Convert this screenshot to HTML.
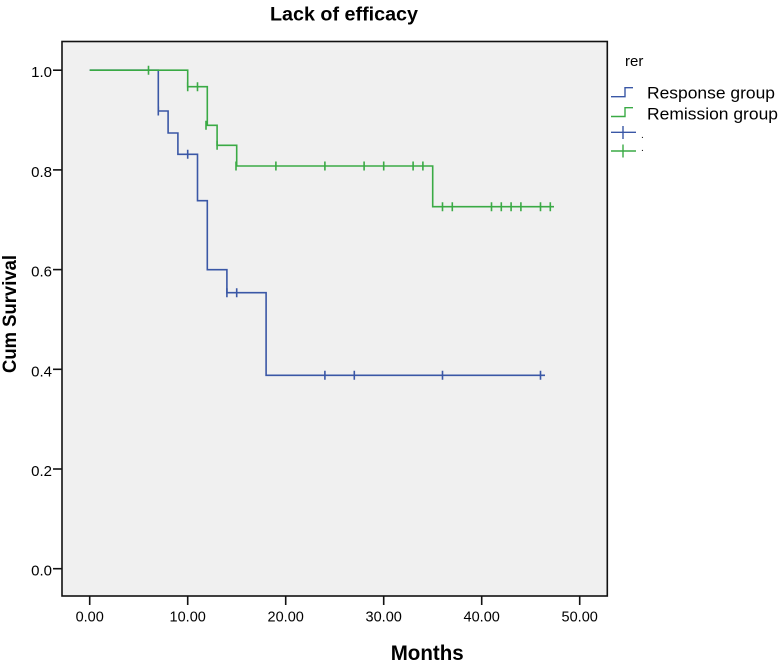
<!DOCTYPE html>
<html>
<head>
<meta charset="utf-8">
<style>
  html,body{margin:0;padding:0;background:#fff;}
  svg{display:block;}
  text{font-family:"Liberation Sans","Noto Sans CJK KR",sans-serif;fill:#000;}
</style>
</head>
<body>
<svg width="778" height="661" viewBox="0 0 778 661" xmlns="http://www.w3.org/2000/svg">
  <rect x="0" y="0" width="778" height="661" fill="#fff"/>
  <!-- title -->
  <text x="270" y="20.5" font-size="19.5" font-weight="bold" textLength="148" lengthAdjust="spacingAndGlyphs">Lack of efficacy</text>

  <!-- plot area -->
  <rect x="62" y="41.5" width="545.3" height="554.5" fill="#f0f0f0" stroke="#111" stroke-width="1.6"/>

  <!-- y ticks -->
  <g stroke="#111" stroke-width="1.6">
    <line x1="53" y1="568.7" x2="62" y2="568.7"/>
    <line x1="53" y1="469" x2="62" y2="469"/>
    <line x1="53" y1="369.3" x2="62" y2="369.3"/>
    <line x1="53" y1="269.6" x2="62" y2="269.6"/>
    <line x1="53" y1="169.9" x2="62" y2="169.9"/>
    <line x1="53" y1="70.2" x2="62" y2="70.2"/>
  </g>
  <g font-size="15" text-anchor="end">
    <text x="52" y="575.7">0.0</text>
    <text x="52" y="476">0.2</text>
    <text x="52" y="376.3">0.4</text>
    <text x="52" y="276.6">0.6</text>
    <text x="52" y="176.9">0.8</text>
    <text x="52" y="77.2">1.0</text>
  </g>

  <!-- x ticks -->
  <g stroke="#111" stroke-width="1.6">
    <line x1="89.7" y1="596" x2="89.7" y2="605"/>
    <line x1="187.7" y1="596" x2="187.7" y2="605"/>
    <line x1="285.7" y1="596" x2="285.7" y2="605"/>
    <line x1="383.7" y1="596" x2="383.7" y2="605"/>
    <line x1="481.7" y1="596" x2="481.7" y2="605"/>
    <line x1="579.7" y1="596" x2="579.7" y2="605"/>
  </g>
  <g font-size="14.5" text-anchor="middle">
    <text x="89.7" y="621.5">0.00</text>
    <text x="187.7" y="621.5">10.00</text>
    <text x="285.7" y="621.5">20.00</text>
    <text x="383.7" y="621.5">30.00</text>
    <text x="481.7" y="621.5">40.00</text>
    <text x="579.7" y="621.5">50.00</text>
  </g>

  <!-- axis titles -->
  <text x="390.7" y="660" font-size="21" font-weight="bold" textLength="73" lengthAdjust="spacingAndGlyphs">Months</text>
  <text transform="translate(16,314) rotate(-90)" x="0" y="0" font-size="19" font-weight="bold" text-anchor="middle" textLength="118" lengthAdjust="spacingAndGlyphs">Cum Survival</text>

  <!-- blue curve (Response group) -->
  <g stroke="#3a57a6" stroke-width="1.6" fill="none">
    <path d="M89.7 70.2 H158.3 V111 H168.1 V133 H177.9 V154.3 H197.5 V200.7 H207.3 V269.7 H226.9 V292.7 H266.1 V375.3 H545"/>
    <path d="M158.3 106.5 V115.5 M187.7 149.8 V158.8 M226.9 288.2 V297.2 M236.7 288.2 V297.2 M324.9 370.8 V379.8 M354.3 370.8 V379.8 M442.5 370.8 V379.8 M540.5 370.8 V379.8"/>
  </g>

  <!-- green curve (Remission group) -->
  <g stroke="#3aaa45" stroke-width="1.6" fill="none">
    <path d="M89.7 70.2 H187.7 V86.7 H207.3 V125.3 H217.1 V145.3 H236.7 V166 H432.7 V206.7 H554"/>
    <path d="M148.5 65.7 V74.7 M187.7 82.2 V91.2 M197.5 82.2 V91.2 M206 120.8 V129.8 M217.1 140.8 V149.8 M236 161.5 V170.5 M275.9 161.5 V170.5 M324.9 161.5 V170.5 M364.1 161.5 V170.5 M383.7 161.5 V170.5 M413.1 161.5 V170.5 M422.9 161.5 V170.5 M442.5 202.2 V211.2 M452.3 202.2 V211.2 M491.5 202.2 V211.2 M501.3 202.2 V211.2 M511.1 202.2 V211.2 M520.9 202.2 V211.2 M540.5 202.2 V211.2 M550.3 202.2 V211.2"/>
  </g>

  <!-- legend -->
  <text x="625" y="66" font-size="15">rer</text>
  <path d="M611 96.7 H625 V87.7 H633" stroke="#3a57a6" stroke-width="1.4" fill="none"/>
  <path d="M611 116.5 H625 V107.7 H633" stroke="#3aaa45" stroke-width="1.4" fill="none"/>
  <text x="647" y="98.5" font-size="17" textLength="128" lengthAdjust="spacingAndGlyphs">Response group</text>
  <text x="647" y="119.3" font-size="17" textLength="131" lengthAdjust="spacingAndGlyphs">Remission group</text>
  <path d="M611 132.3 H636 M623 126 V139" stroke="#3a57a6" stroke-width="1.4" fill="none"/>
  <path d="M611 151 H636 M623 144.5 V157.5" stroke="#3aaa45" stroke-width="1.4" fill="none"/>
  <text x="641" y="138" font-size="10">.</text>
  <text x="641" y="151" font-size="10">.</text>
</svg>
</body>
</html>
